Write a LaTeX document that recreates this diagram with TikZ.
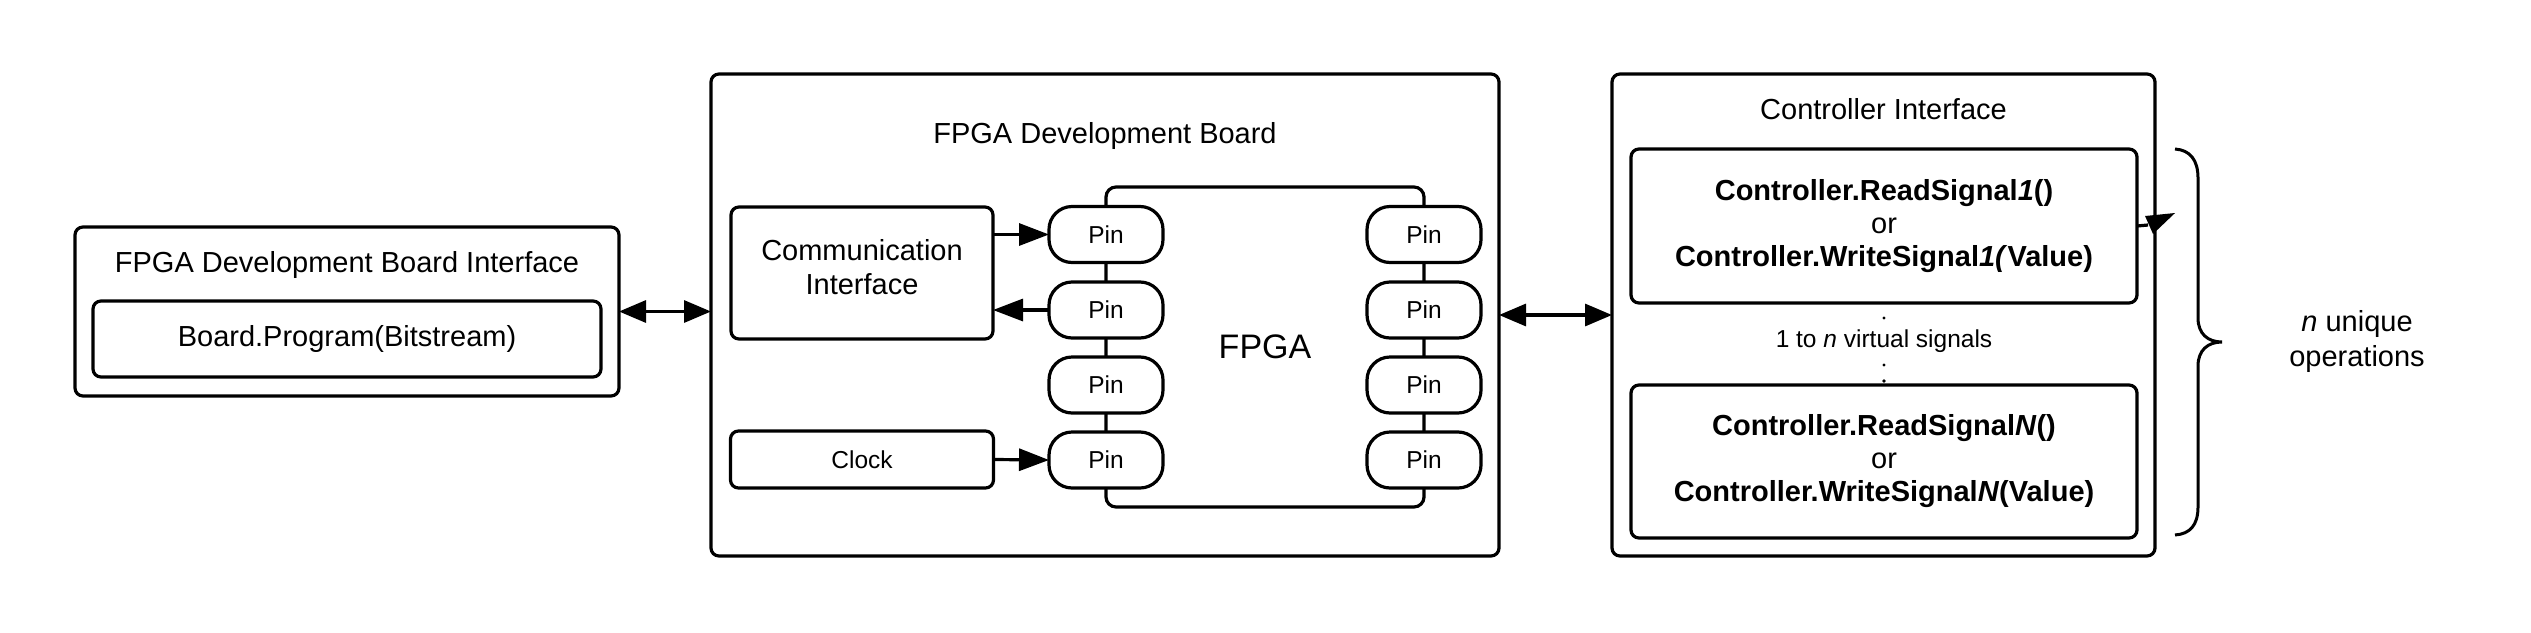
\documentclass[tikz,border=0pt]{standalone}
\usepackage{fontspec}
\setmainfont{Liberation Sans}
\usetikzlibrary{arrows.meta}
\newcommand\fmain{\fontsize{29}{33}\selectfont}
\newcommand\fpin{\fontsize{24.5}{28}\selectfont}
\newcommand\fbig{\fontsize{34}{38}\selectfont}
\begin{document}
\begin{tikzpicture}[x=1pt,y=-1pt,
  lw/.style={line width=3.2pt},
  box/.style={draw,lw,rounded corners=8pt,inner sep=0pt,outer sep=0pt,align=center},
  pinbox/.style={draw,lw,rounded corners=23pt,fill=white,minimum width=114pt,minimum height=56pt,inner sep=0pt,outer sep=0pt,font=\fpin},
  lbl/.style={inner sep=0pt,outer sep=0pt,anchor=base,align=center},
  arr/.style={lw,-{Triangle[length=30pt,width=22pt]}},
  darr/.style={lw,{Triangle[length=27pt,width=22pt]}-{Triangle[length=27pt,width=22pt]}}
]
\useasboundingbox (0,0) rectangle (2531,632);

% left interface
\node[box,minimum width=544pt,minimum height=169pt] (left) at (347,311.5) {};
\node[lbl,font=\fmain] (lefttitle) at (347,272.4) {FPGA Development Board Interface};
\node[box,minimum width=508pt,minimum height=76pt,font=\fmain] (prog) at (347,339) {Board.Program(Bitstream)};

% development board
\node[box,minimum width=788pt,minimum height=482pt] (board) at (1105,315) {};
\node[lbl,font=\fmain] (boardtitle) at (1105,143.4) {FPGA Development Board};
\node[box,minimum width=262pt,minimum height=132pt,font=\fmain,execute at begin node={\baselineskip=34pt}] (ci) at (862,273) {Communication\\Interface\rule[-12pt]{0pt}{12pt}};
\node[box,minimum width=263pt,minimum height=57pt,font=\fpin] (clock) at (862,459.5) {Clock};

% FPGA chip
\node[box,rounded corners=10pt,minimum width=318pt,minimum height=320pt] (chip) at (1265,347) {};
\node[lbl,font=\fbig] (chiptext) at (1265,358.2) {FPGA};
\foreach \i/\y in {1/234.5,2/310,3/385,4/460}{
  \node[pinbox] (pl\i) at (1106,\y) {Pin};
  \node[pinbox] (pr\i) at (1424,\y) {Pin};
}

% arrows on board
\draw[arr] (pl1.west -| ci.east) -- (pl1.west);
\draw[arr] (pl2.west) -- (pl2.west -| ci.east);
\draw[arr] (clock.east) -- (pl4.west);

% controller interface
\node[box,minimum width=543pt,minimum height=482pt] (ctrl) at (1883.5,315) {};
\node[lbl,font=\fmain] (ctrltitle) at (1883.5,119.4) {Controller Interface};
\node[box,minimum width=506pt,minimum height=154pt,font=\fmain] (c1) at (1884,226)
  {\textbf{Controller.ReadSignal\textit{1}()}\\or\\\textbf{Controller.WriteSignal\textit{1(}Value)}};
\node[box,minimum width=506pt,minimum height=153pt,font=\fmain] (cn) at (1884,461.5)
  {\textbf{Controller.ReadSignal\textit{N}()}\\or\\\textbf{Controller.WriteSignal\textit{N}(Value)}};
\node[lbl,font=\fpin] (virt) at (1884,347) {1 to \textit{n} virtual signals};
\fill (1884,318) circle (1.6pt);
\fill (1884,365) circle (1.6pt);
\fill (1884,381) circle (1.8pt);

% odd arrow at box 1
\draw[lw] (c1.east) -- (2148,225);
\fill (2145,216) -- (2175,213) -- (2153,234) -- cycle;

% main double arrows
\draw[darr] (left.east) -- (left.east -| board.west);
\draw[darr] (board.east) -- (ctrl.west);

% brace
\draw[line width=3pt] (2175,149) .. controls (2190,150) and (2198,160) .. (2198,178)
  -- (2198,318) .. controls (2198,334) and (2208,342) .. (2222,342)
  .. controls (2208,342) and (2198,350) .. (2198,366)
  -- (2198,507) .. controls (2198,525) and (2190,534) .. (2175,535);
\node[lbl,font=\fmain,execute at begin node={\baselineskip=35pt}] (ops) at (2357,366) {\textit{n} unique\\operations};
\end{tikzpicture}
\end{document}
